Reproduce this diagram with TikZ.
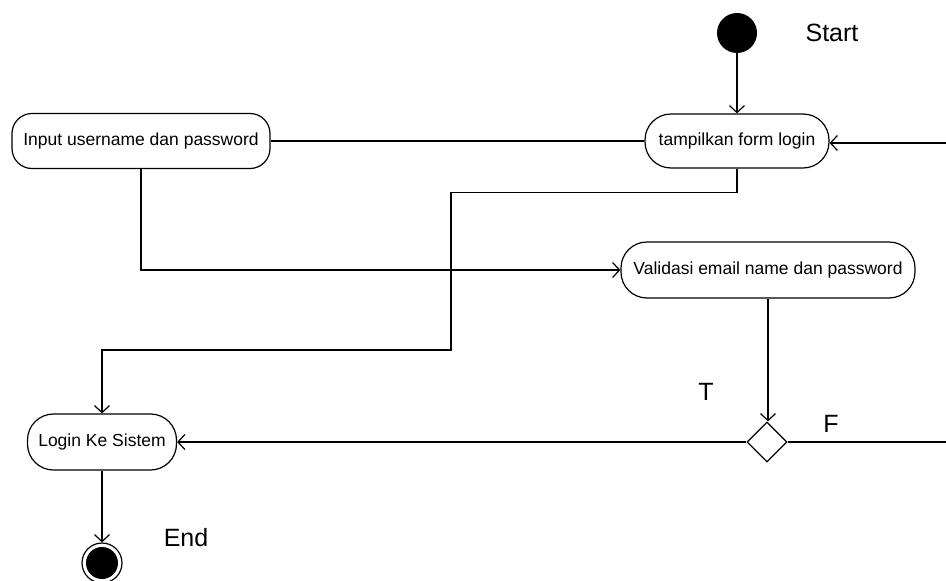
\documentclass[tikz,border=0pt]{standalone}
\usepackage{fontspec}
\setmainfont{Liberation Sans}
\usetikzlibrary{arrows.meta,shapes.geometric}
\tikzset{
  flow/.style={line width=1.2pt},
  arr/.style={flow,-{Straight Barb[length=7pt,width=15pt,line width=1.2pt]}},
  act/.style={draw,line width=1.2pt,fill=white,rounded corners=26pt,inner sep=0pt,
    font=\fontsize{17.5}{20}\selectfont},
  lbl/.style={font=\fontsize{25}{28}\selectfont,inner sep=0pt},
}
\begin{document}
\begin{tikzpicture}[x=1pt,y=-1pt]
\useasboundingbox (0,0) rectangle (946,581);
% initial and final states
\node[circle,fill=black,minimum size=40pt,inner sep=0pt] (start) at (737,33) {};
\node[circle,draw,line width=1.2pt,minimum size=40pt,inner sep=0pt] (end) at (102,563) {};
\fill (end) circle (16pt);
% activities
\node[act,minimum width=184pt,minimum height=54pt] (tampil) at (737,141) {tampilkan form login};
\node[act,rounded corners=20pt,minimum width=258pt,minimum height=55pt] (input) at (141,141) {Input username dan password};
\node[act,minimum width=294pt,minimum height=56pt] (valid) at (768,270) {Validasi email name dan password};
\node[act,minimum width=149pt,minimum height=56pt] (login) at (102,442) {Login Ke Sistem};
\node[diamond,draw,line width=1.2pt,fill=white,minimum size=40pt,inner sep=0pt] (dec) at (767,442) {};
% labels
\node[lbl] (lstart) at (832,33) {Start};
\node[lbl] (lt) at (706,392) {T};
\node[lbl] (lf) at (831,424) {F};
\node[lbl] (lend) at (186,538) {End};
% loop ends at the right margin
\coordinate (fout) at (946,442);
\coordinate (fin) at (946,143);
% transitions
\draw[arr] (start) -- (tampil);
\draw[flow] (input.east) -- (tampil.west);
\draw[arr] (input.south) |- (valid.west);
\draw[arr] (tampil.south) -- ++(0,24) -| (451,350) -| (login.north);
\draw[arr] (valid.south) -- (valid.south |- dec.north);
\draw[arr] (dec.west) -- (login.east);
\draw[flow] (dec.east) -- (fout);
\draw[arr] (fin) -- (tampil.east |- fin);
\draw[arr] (login.south) -- (end.north);
\end{tikzpicture}
\end{document}
